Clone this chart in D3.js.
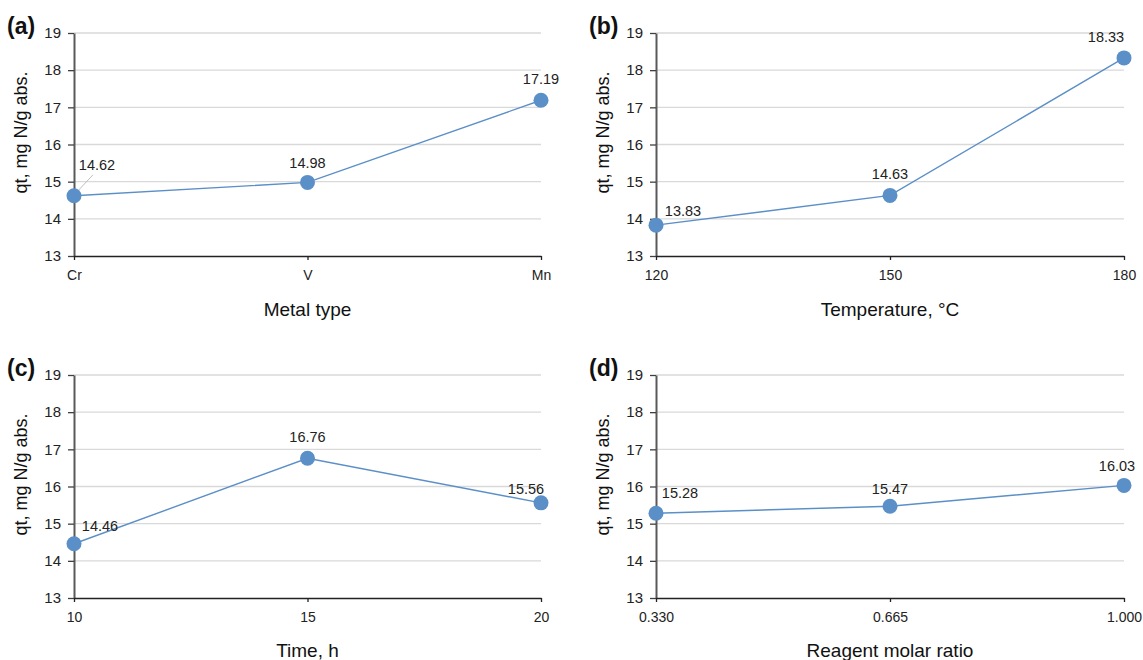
<!DOCTYPE html>
<html>
<head>
<meta charset="utf-8">
<script src="https://cdn.jsdelivr.net/npm/d3@7"></script>
<style>
  body { margin: 0; background: #fff; }
  svg { display: block; font-family: "Liberation Sans", Arial, sans-serif; }
</style>
</head>
<body>
<div id="chart"></div>
<script>
// data
var metalCats = ["Cr", "V", "Mn"];
var metalVals = [14.62, 14.98, 17.19];

var tempCats = ["120", "150", "180"];
var tempVals = [13.83, 14.63, 18.33];

var timeCats = ["10", "15", "20"];
var timeVals = [14.46, 16.76, 15.56];

var ratioCats = ["0.330", "0.665", "1.000"];
var ratioVals = [15.28, 15.47, 16.03];

var yTicks = [13, 14, 15, 16, 17, 18, 19];

// panel layout (positions only)
var panels = [
  {tag: "(a)", cats: metalCats, vals: metalVals, xTitle: "Metal type",
   left: 74, right: 541, top: 33, bottom: 256, titleY: 316,
   lab: [[23, -26], [0, -14], [0, -16]], leader: true},
  {tag: "(b)", cats: tempCats, vals: tempVals, xTitle: "Temperature, \u00b0C",
   left: 656, right: 1124, top: 33, bottom: 256, titleY: 316,
   lab: [[27, -9], [0, -16], [-18, -16]]},
  {tag: "(c)", cats: timeCats, vals: timeVals, xTitle: "Time, h",
   left: 74, right: 541, top: 375, bottom: 598, titleY: 657,
   lab: [[26, -13], [0, -16], [-15, -9]]},
  {tag: "(d)", cats: ratioCats, vals: ratioVals, xTitle: "Reagent molar ratio",
   left: 656, right: 1124, top: 375, bottom: 598, titleY: 657,
   lab: [[24, -15], [0, -12], [-7, -14]]}
];

var blue = "#5b8fc7";

var svg = d3.select("#chart").append("svg")
  .attr("width", 1143)
  .attr("height", 660);

panels.forEach(function(p) {
  var g = svg.append("g");

  var x = d3.scalePoint()
    .domain(p.cats)
    .range([p.left, p.right]);

  var y = d3.scaleLinear()
    .domain([13, 19])
    .range([p.bottom, p.top]);

  // gridlines
  g.selectAll(".grid")
    .data(yTicks.slice(1))
    .enter()
    .append("line")
      .attr("x1", p.left)
      .attr("x2", p.right)
      .attr("y1", function(d) { return y(d); })
      .attr("y2", function(d) { return y(d); })
      .attr("stroke", "#d9d9d9")
      .attr("stroke-width", 1.3);

  // Y axis
  var ya = g.append("g")
    .attr("transform", "translate(" + p.left + ",0)")
    .call(d3.axisLeft(y).tickValues(yTicks).tickFormat(d3.format("d"))
      .tickSize(6).tickSizeOuter(0).tickPadding(7));
  ya.select(".domain").attr("stroke", "#595959").attr("stroke-width", 2);
  ya.selectAll(".tick line").attr("stroke", "#404040").attr("stroke-width", 1.3);
  ya.selectAll("text").style("font-size", "15px").attr("fill", "#222");

  // X axis
  var xa = g.append("g")
    .attr("transform", "translate(0," + p.bottom + ")")
    .call(d3.axisBottom(x).tickSize(4).tickSizeOuter(0).tickPadding(10));
  xa.select(".domain").attr("stroke", "#222").attr("stroke-width", 1.6);
  xa.selectAll(".tick line").attr("stroke", "#222").attr("stroke-width", 1.3);
  xa.selectAll("text").style("font-size", "14px").attr("fill", "#222");

  // line
  var line = d3.line()
    .x(function(d, i) { return x(p.cats[i]); })
    .y(function(d) { return y(d); });
  g.append("path")
    .datum(p.vals)
    .attr("d", line)
    .attr("fill", "none")
    .attr("stroke", blue)
    .attr("stroke-width", 1.4);

  // leader line for the shifted label
  if (p.leader) {
    var lx = x(p.cats[0]), ly = y(p.vals[0]);
    g.append("line")
      .attr("x1", lx + 4).attr("y1", ly - 5)
      .attr("x2", lx + 19).attr("y2", ly - 21)
      .attr("stroke", "#bfbfbf")
      .attr("stroke-width", 1);
  }

  // markers
  g.selectAll(".pt")
    .data(p.vals)
    .enter()
    .append("circle")
      .attr("cx", function(d, i) { return x(p.cats[i]); })
      .attr("cy", function(d) { return y(d); })
      .attr("r", 7.5)
      .attr("fill", blue);

  // data labels
  g.selectAll(".lab")
    .data(p.vals)
    .enter()
    .append("text")
      .attr("x", function(d, i) { return x(p.cats[i]) + p.lab[i][0]; })
      .attr("y", function(d, i) { return y(d) + p.lab[i][1]; })
      .attr("text-anchor", "middle")
      .style("font-size", "14.5px")
      .attr("fill", "#222")
      .text(function(d) { return d.toFixed(2); });

  // axis titles
  g.append("text")
    .attr("x", (p.left + p.right) / 2)
    .attr("y", p.titleY)
    .attr("text-anchor", "middle")
    .style("font-size", "19px")
    .attr("fill", "#111")
    .text(p.xTitle);

  g.append("text")
    .attr("transform", "rotate(-90)")
    .attr("x", -((p.top + p.bottom) / 2 - 12))
    .attr("y", p.left - 47)
    .attr("text-anchor", "middle")
    .style("font-size", "18px")
    .attr("fill", "#111")
    .text("qt, mg N/g abs.");

  // panel letter
  g.append("text")
    .attr("x", p.left - 67)
    .attr("y", p.top + 1)
    .style("font-size", "23px")
    .style("font-weight", "bold")
    .attr("fill", "#111")
    .text(p.tag);
});
</script>
</body>
</html>
